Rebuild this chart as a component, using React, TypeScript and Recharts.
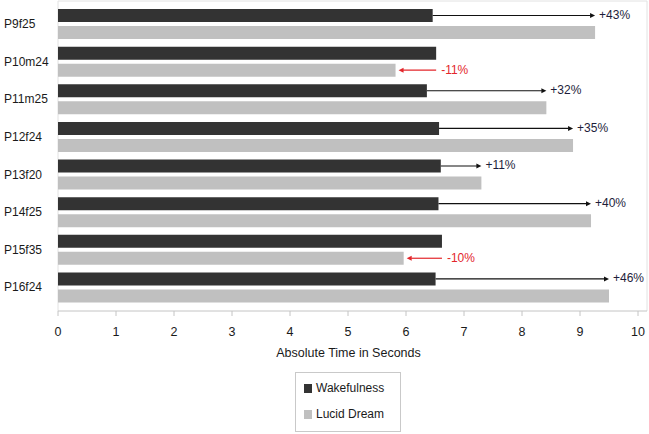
import React from 'react';
import { BarChart, Bar, XAxis, YAxis, CartesianGrid, Legend, LabelList, Label } from 'recharts';

const participants = ['P9f25', 'P10m24', 'P11m25', 'P12f24', 'P13f20', 'P14f25', 'P15f35', 'P16f24'];
const wakefulness = [6.46, 6.52, 6.36, 6.57, 6.6, 6.56, 6.62, 6.51];
const lucidDream = [9.26, 5.82, 8.42, 8.88, 7.3, 9.19, 5.96, 9.5];
const changeLabels = ['+43%', '-11%', '+32%', '+35%', '+11%', '+40%', '-10%', '+46%'];
const xTicks = [0, 1, 2, 3, 4, 5, 6, 7, 8, 9, 10];
const seriesOrder = ['Wakefulness', 'Lucid Dream'];

const FONT = '"Liberation Sans", Arial, sans-serif';
const BAR_SIZE = 13;
const BAR_GAP = 4;

const data = participants.map((name, i) => ({
  name,
  wakefulness: wakefulness[i],
  lucid: lucidDream[i],
  change: changeLabels[i],
}));

const CategoryTick = (props: any) => {
  const { y, payload } = props;
  return (
    <text x={4} y={y} dy="0.35em" fontSize={12} fill="#1a1a1a" fontFamily={FONT}>
      {payload.value}
    </text>
  );
};

// arrow from the wakefulness end to the lucid dream end, with the % change
const ArrowLabel = (props: any) => {
  const vb = props.viewBox || {};
  const x = props.x ?? vb.x;
  const y = props.y ?? vb.y;
  const width = props.width ?? vb.width;
  const height = props.height ?? vb.height;
  const index = props.index;
  const dark = wakefulness[index];
  const lucid = lucidDream[index];
  const pxPerUnit = width / lucid;
  const darkEnd = x + dark * pxPerUnit;
  const lucidEnd = x + width;
  const head = 5;
  const half = 2.5;

  if (lucid >= dark) {
    const ly = y - BAR_GAP - height / 2;
    const tip = lucidEnd;
    return (
      <g>
        <line x1={darkEnd} y1={ly} x2={tip - head + 0.5} y2={ly} stroke="#111" strokeWidth={1.2} />
        <polygon points={`${tip},${ly} ${tip - head},${ly - half} ${tip - head},${ly + half}`} fill="#111" />
        <text x={tip + 4} y={ly - 1} dy="0.35em" fontSize={12} fill="#1d1d3a" fontFamily={FONT}>
          {changeLabels[index]}
        </text>
      </g>
    );
  }
  const ly = y + height / 2;
  const tip = lucidEnd + 3;
  return (
    <g>
      <line x1={darkEnd} y1={ly} x2={tip + head - 0.5} y2={ly} stroke="#e3262b" strokeWidth={1.2} />
      <polygon points={`${tip},${ly} ${tip + head},${ly - half} ${tip + head},${ly + half}`} fill="#e3262b" />
      <text x={darkEnd + 5} y={ly} dy="0.35em" fontSize={12} fill="#e3262b" fontFamily={FONT}>
        {changeLabels[index]}
      </text>
    </g>
  );
};

const LegendBox = (props: any) => {
  const payload = [...(props.payload || [])].sort(
    (a: any, b: any) => seriesOrder.indexOf(a.value) - seriesOrder.indexOf(b.value)
  );
  return (
    <div
      style={{
        position: 'relative',
        boxSizing: 'border-box',
        width: 106,
        height: 60,
        border: '1px solid #c9c9c9',
        background: '#fff',
        fontFamily: FONT,
        fontSize: 12,
        color: '#1a1a1a',
      }}
    >
      {payload.map((p: any, i: number) => (
        <div
          key={p.value}
          style={{ position: 'absolute', left: 8, top: 8 + i * 26, height: 14, display: 'flex', alignItems: 'center' }}
        >
          <span style={{ display: 'inline-block', width: 8, height: 9, background: p.color, marginRight: 4 }} />
          <span>{p.value}</span>
        </div>
      ))}
    </div>
  );
};

export default function App() {
  return (
    <div style={{ position: 'absolute', left: 0, top: 0, background: '#fff' }}>
      <BarChart
        width={649}
        height={434}
        data={data}
        layout="vertical"
        margin={{ top: 1, right: 2, bottom: 2, left: 0 }}
        barSize={BAR_SIZE}
        barGap={BAR_GAP}
      >
        <CartesianGrid
          stroke="#e2e2e2"
          horizontalCoordinatesGenerator={({ offset }: any) => [offset.top]}
          verticalCoordinatesGenerator={({ offset }: any) => [offset.left, offset.left + offset.width]}
        />
        <XAxis
          type="number"
          domain={[0, 10]}
          ticks={xTicks}
          interval={0}
          padding={{ left: 0, right: 9 }}
          height={61}
          axisLine={{ stroke: '#c4c4c4' }}
          tickLine={{ stroke: '#c4c4c4' }}
          tickSize={5}
          tickMargin={11}
          tick={{ fontSize: 12.5, fill: '#1a1a1a', fontFamily: FONT }}
        >
          <Label
            value="Absolute Time in Seconds"
            position="insideBottom"
            offset={15}
            dx={-4}
            style={{ fontSize: 12.5, fill: '#1a1a1a', fontFamily: FONT }}
          />
        </XAxis>
        <YAxis
          type="category"
          dataKey="name"
          width={58}
          axisLine={false}
          tickLine={false}
          tick={<CategoryTick />}
          padding={{ top: 4, bottom: 5 }}
          interval={0}
        />
        <Bar dataKey="wakefulness" name="Wakefulness" fill="#333333" isAnimationActive={false} />
        <Bar dataKey="lucid" name="Lucid Dream" fill="#c0c0c0" isAnimationActive={false}>
          <LabelList dataKey="change" content={<ArrowLabel />} />
        </Bar>
        <Legend
          verticalAlign="bottom"
          align="center"
          wrapperStyle={{ left: 295, width: 106, bottom: 2 }}
          content={<LegendBox />}
        />
      </BarChart>
    </div>
  );
}
